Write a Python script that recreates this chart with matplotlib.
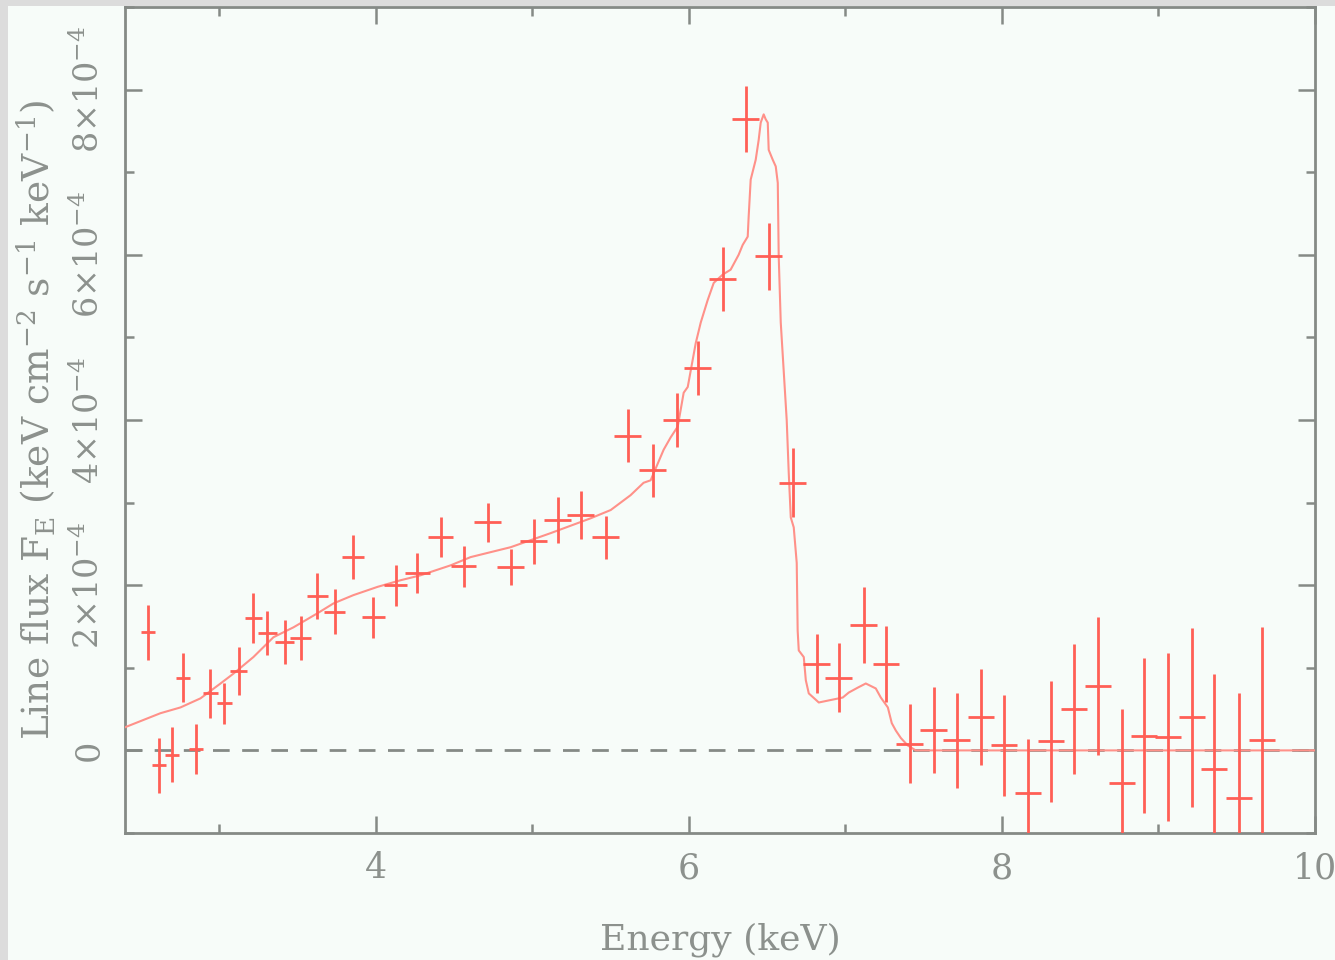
import matplotlib
matplotlib.use("Agg")
import matplotlib.pyplot as plt
from matplotlib.patches import Rectangle
from matplotlib.ticker import MultipleLocator, FixedLocator
import numpy as np

# ---- data, units: keV and 1e-4 ----
energy = [2.549, 2.620, 2.703, 2.773, 2.856, 2.946, 3.035, 3.125, 3.220, 3.310,
          3.419, 3.521, 3.629, 3.738, 3.859, 3.987, 4.128, 4.268, 4.415, 4.562,
          4.716, 4.863, 5.010, 5.163, 5.310, 5.470, 5.610, 5.770, 5.923, 6.058,
          6.217, 6.364, 6.511, 6.665, 6.818, 6.958, 7.118, 7.259, 7.412, 7.565,
          7.712, 7.866, 8.013, 8.166, 8.313, 8.460, 8.613, 8.767, 8.907, 9.061,
          9.214, 9.355, 9.514, 9.661]
flux = [1.43, -0.18, -0.05, 0.88, 0.02, 0.69, 0.57, 0.96, 1.60, 1.42,
        1.31, 1.36, 1.87, 1.68, 2.34, 1.61, 2.00, 2.15, 2.58, 2.23,
        2.76, 2.22, 2.53, 2.79, 2.85, 2.58, 3.81, 3.39, 4.00, 4.63,
        5.71, 7.64, 5.98, 3.24, 1.05, 0.88, 1.52, 1.05, 0.08, 0.25,
        0.12, 0.40, 0.06, -0.51, 0.11, 0.50, 0.78, -0.40, 0.18, 0.16,
        0.40, -0.22, -0.58, 0.13]
flux_err = [0.33, 0.33, 0.33, 0.30, 0.30, 0.30, 0.25, 0.29, 0.30, 0.27,
            0.27, 0.27, 0.28, 0.27, 0.27, 0.25, 0.25, 0.24, 0.24, 0.25,
            0.24, 0.22, 0.27, 0.28, 0.29, 0.26, 0.32, 0.32, 0.33, 0.33,
            0.39, 0.40, 0.41, 0.42, 0.36, 0.42, 0.46, 0.46, 0.48, 0.52,
            0.57, 0.58, 0.61, 0.65, 0.73, 0.79, 0.84, 0.90, 0.94, 1.02,
            1.08, 1.15, 1.27, 1.37]
energy_err = [0.045, 0.045, 0.045, 0.045, 0.045, 0.045, 0.05, 0.055, 0.055, 0.06,
              0.06, 0.065, 0.065, 0.07, 0.07, 0.075, 0.075, 0.08, 0.08, 0.08,
              0.085, 0.085, 0.085, 0.085, 0.085, 0.085, 0.085, 0.085, 0.085, 0.085,
              0.085, 0.085, 0.085, 0.085, 0.085, 0.085, 0.085, 0.085, 0.085, 0.085,
              0.085, 0.085, 0.085, 0.085, 0.085, 0.085, 0.085, 0.085, 0.085, 0.085,
              0.085, 0.085, 0.085, 0.085]

model_energy = [2.40, 2.626, 2.754, 2.882, 3.010, 3.093, 3.220, 3.348, 3.476, 3.629,
                3.732, 3.859, 4.013, 4.160, 4.288, 4.479, 4.607, 4.863, 5.118, 5.374,
                5.502, 5.629, 5.712, 5.757, 5.840, 5.885, 5.930, 5.968, 5.994, 6.045,
                6.077, 6.121, 6.160, 6.217, 6.268, 6.319, 6.345, 6.377, 6.383, 6.396,
                6.428, 6.447, 6.460, 6.479, 6.492, 6.505, 6.511, 6.537, 6.556, 6.569,
                6.575, 6.588, 6.626, 6.639, 6.652, 6.671, 6.690, 6.696, 6.703, 6.735,
                6.748, 6.767, 6.831, 6.907, 6.984, 7.022, 7.080, 7.131, 7.195, 7.227,
                7.272, 7.297, 7.323, 7.355, 7.399, 7.450, 10.0]
model_flux = [0.28, 0.45, 0.52, 0.63, 0.81, 0.93, 1.13, 1.37, 1.49, 1.66,
              1.78, 1.88, 1.98, 2.06, 2.12, 2.24, 2.34, 2.46, 2.63, 2.81,
              2.91, 3.09, 3.24, 3.27, 3.64, 3.79, 3.92, 4.33, 4.40, 4.93,
              5.18, 5.45, 5.66, 5.76, 5.82, 6.00, 6.12, 6.22, 6.46, 6.91,
              7.15, 7.39, 7.60, 7.70, 7.64, 7.60, 7.27, 7.15, 7.07, 6.87,
              5.98, 5.18, 4.00, 3.36, 2.82, 2.70, 2.27, 1.45, 1.21, 1.13,
              0.85, 0.69, 0.58, 0.61, 0.64, 0.70, 0.76, 0.81, 0.75, 0.64,
              0.52, 0.33, 0.24, 0.15, 0.06, 0.0, 0.0]

x_ticks = [4, 6, 8, 10]
y_ticks = [0, 2, 4, 6, 8]
y_tick_labels = ["0", r"$2{\times}10^{-4}$", r"$4{\times}10^{-4}$",
                 r"$6{\times}10^{-4}$", r"$8{\times}10^{-4}$"]

# ---- style ----
bg = "#f7fcf9"
axc = "#858a86"
txt = "#8c918d"
red = "#ff5f56"
model_c = "#ff9189"

plt.rcParams["font.family"] = ["DejaVu Serif"]
plt.rcParams["mathtext.fontset"] = "dejavuserif"

fig = plt.figure(figsize=(13.35, 9.6), dpi=100, facecolor=bg)
ax = fig.add_axes([125/1335, 127/960, 1190/1335, 826/960])
ax.set_facecolor(bg)

# gray border strips
fig.patches.append(Rectangle((0, 0), 8/1335, 1, transform=fig.transFigure,
                             facecolor="#dcdcdc", edgecolor="none", zorder=-1))
fig.patches.append(Rectangle((0, 1 - 6/960), 1, 6/960, transform=fig.transFigure,
                             facecolor="#dcdcdc", edgecolor="none", zorder=-1))

ax.axhline(0, color=axc, lw=2.0, linestyle=(0, (6, 4.5)), zorder=1)
ax.plot(model_energy, model_flux, color=model_c, lw=1.5, zorder=3)
ax.errorbar(energy, flux, yerr=flux_err, xerr=energy_err, fmt="none",
            ecolor=red, elinewidth=2.0, capsize=0, zorder=4)

ax.set_xlim(2.4, 10)
ax.set_ylim(-1.0, 9.0)

ax.xaxis.set_major_locator(FixedLocator(x_ticks))
ax.xaxis.set_minor_locator(MultipleLocator(1))
ax.yaxis.set_major_locator(FixedLocator(y_ticks))
ax.yaxis.set_minor_locator(MultipleLocator(1))
ax.set_yticklabels(y_tick_labels)

ax.tick_params(which="both", direction="in", top=True, right=True,
               color=axc, width=1.8)
ax.tick_params(which="major", length=12)
ax.tick_params(which="minor", length=6.5)
ax.tick_params(axis="x", labelsize=25, labelcolor=txt, pad=13)
ax.tick_params(axis="y", labelsize=24, labelcolor=txt, pad=14)
for lab in ax.get_yticklabels():
    lab.set_rotation(90)
    lab.set_va("center")

for s in ax.spines.values():
    s.set_color(axc)
    s.set_linewidth(2.0)

ax.set_xlabel("Energy (keV)", fontsize=26, color=txt, labelpad=27)
ax.set_ylabel(r"Line flux F$_\mathrm{E}$ (keV cm$^{-2}$ s$^{-1}$ keV$^{-1}$)",
              fontsize=27, color=txt, labelpad=10)

fig.savefig("out.png", dpi=100, facecolor=bg)
